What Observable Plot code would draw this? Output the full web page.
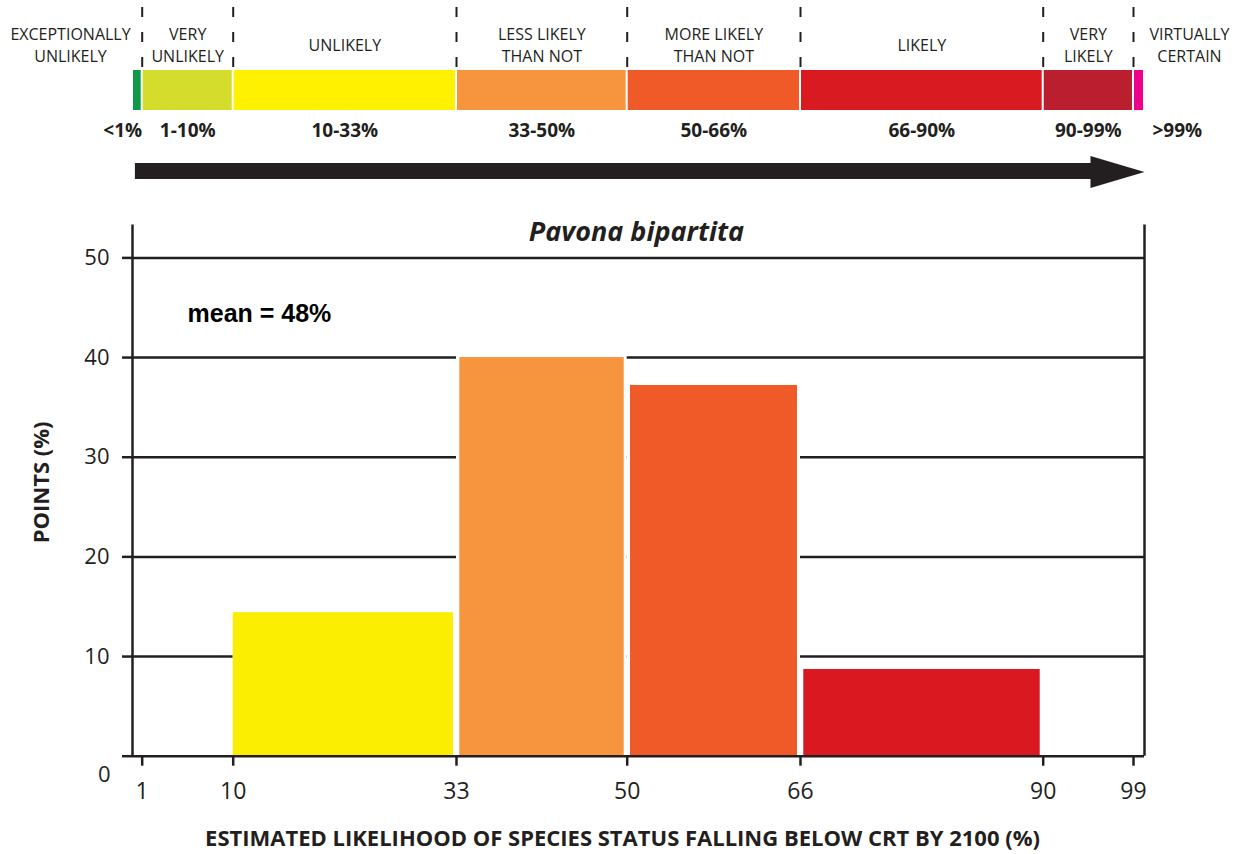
<!DOCTYPE html>
<html>
<head>
<meta charset="utf-8">
<script src="https://cdn.jsdelivr.net/npm/d3@7"></script>
<script src="https://cdn.jsdelivr.net/npm/@observablehq/plot@0.6"></script>
<style>
  body { margin: 0; background: #fff; }
  svg { display: block; }
</style>
</head>
<body>
<div id="chart"></div>
<script>
// ---------- data ----------
const catLabels = ["EXCEPTIONALLY\nUNLIKELY", "VERY\nUNLIKELY", "UNLIKELY", "LESS LIKELY\nTHAN NOT", "MORE LIKELY\nTHAN NOT", "LIKELY", "VERY\nLIKELY", "VIRTUALLY\nCERTAIN"];
const catRanges = ["<1%", "1-10%", "10-33%", "33-50%", "50-66%", "66-90%", "90-99%", ">99%"];
const catLo = [0, 1, 10, 33, 50, 66, 90, 99];
const catHi = [1, 10, 33, 50, 66, 90, 99, 100];
const catPalette = ["#0f9a4a", "#d5dd2c", "#fff100", "#f7953e", "#ef5a28", "#da1a21", "#bb1e2f", "#ec008c"];

const binLo = [10, 33, 50, 66];
const binHi = [33, 50, 66, 90];
const points = [14.4, 40, 37.2, 8.7];
const binPalette = ["#fcee00", "#f7953e", "#f05a28", "#d9181f"];

const xTicks = [1, 10, 33, 50, 66, 90, 99];
const yTicks = [0, 10, 20, 30, 40, 50];
const arrowFrom = 0.3, arrowTo = 100;
const speciesTitle = "Pavona bipartita";
const meanLabel = "mean = 48%";
const xTitle = "ESTIMATED LIKELIHOOD OF SPECIES STATUS FALLING BELOW CRT BY 2100 (%)";
const yTitle = "POINTS (%)";

// ---------- shared layout ----------
const W = 1237;
const ink = "#231f20";
const xScale = {
  type: "linear",
  domain: [0, 1, 10, 33, 50, 66, 90, 99, 100],
  range: [132, 141.7, 232.7, 456, 626.7, 800, 1042.7, 1133, 1144]
};
const xMin = xScale.domain[0], xMax = xScale.domain[xScale.domain.length - 1];
const cats = catLabels.map((label, i) => ({label, range: catRanges[i], lo: catLo[i], hi: catHi[i], color: catPalette[i]}));
const bins = binLo.map((lo, i) => ({lo, hi: binHi[i], value: points[i], color: binPalette[i]}));
const mid = d => (d.lo + d.hi) / 2;
const rows = ["label", "band", "pct", "arrow"];
const font = "Open Sans";

// ---------- top scale strip ----------
const arrowHead = {
  draw(ctx) {
    ctx.moveTo(0, 0);
    ctx.lineTo(-54, -16);
    ctx.lineTo(-54, 16);
    ctx.closePath();
  }
};

const labelStyle = {fontSize: 16, lineHeight: 1.4, fill: ink, dy: -2};
const pctStyle = {fontSize: 19, fontWeight: "bold", fill: ink, dy: -1};

const stripPlot = Plot.plot({
  width: W, height: 200,
  marginLeft: 132, marginRight: 93, marginTop: 0, marginBottom: 0,
  style: {fontFamily: font, color: ink, background: "#fff"},
  x: {...xScale, axis: null},
  y: {type: "band", domain: rows, range: [24, 196], padding: 0, axis: null},
  color: {type: "identity"},
  marks: [
    Plot.ruleX(catHi.slice(0, -1), {x: d => d, y1: () => "label", y2: () => "label", stroke: ink, strokeWidth: 2, strokeDasharray: "10,15", insetTop: -17, insetBottom: -3}),
    Plot.barX(cats, {x1: "lo", x2: "hi", y: () => "band", fill: "color", insetLeft: 1, insetRight: 1, insetTop: 3}),
    Plot.text(cats.slice(1, -1), {x: mid, y: () => "label", text: "label", ...labelStyle}),
    Plot.text(cats.slice(0, 1), {x: "lo", y: () => "label", text: "label", ...labelStyle, dx: -62}),
    Plot.text(cats.slice(-1), {x: "hi", y: () => "label", text: "label", ...labelStyle, dx: 45}),
    Plot.text(cats.slice(1, -1), {x: mid, y: () => "pct", text: "range", ...pctStyle}),
    Plot.text(cats.slice(0, 1), {x: "hi", y: () => "pct", text: "range", ...pctStyle, textAnchor: "end"}),
    Plot.text(cats.slice(-1), {x: "hi", y: () => "pct", text: "range", ...pctStyle, textAnchor: "start", dx: 8}),
    Plot.barX([{from: arrowFrom, to: arrowTo}], {x1: "from", x2: "to", y: () => "arrow", fill: ink, insetTop: 10, insetBottom: 17, insetRight: 45}),
    Plot.dot([{to: arrowTo}], {x: "to", y: () => "arrow", symbol: arrowHead, fill: ink, stroke: null, dy: -3})
  ]
});

// ---------- histogram ----------
const H = 654;
const y0px = 555.7;
const yTop = 54.3;
const histPlot = Plot.plot({
  width: W, height: H,
  marginLeft: 132, marginRight: 93, marginTop: 0, marginBottom: H - y0px,
  style: {fontFamily: font, color: ink, background: "#fff"},
  x: {...xScale, label: null},
  y: {type: "linear", domain: [0, 50], range: [y0px, 57.4], label: null},
  color: {type: "identity"},
  marks: [
    Plot.ruleY(yTicks.slice(1), {x1: xMin, x2: xMax, stroke: ink, strokeWidth: 2.5}),
    Plot.rectY(bins, {x1: "lo", x2: "hi", y: "value", fill: "#fff", insetTop: -2}),
    Plot.rectY(bins.slice(0, 1), {x1: "lo", x2: "hi", y: "value", fill: "color", insetRight: 3}),
    Plot.rectY(bins.slice(1), {x1: "lo", x2: "hi", y: "value", fill: "color", insetLeft: 3.3, insetRight: 3}),
    Plot.ruleY([0], {x1: xMin, x2: xMax, stroke: ink, strokeWidth: 2.5}),
    Plot.ruleX([xMin, xMax], {y1: 0, y2: yTop, stroke: ink, strokeWidth: 2.5, insetBottom: -10}),
    Plot.axisY({ticks: yTicks, tickSize: 10, tickPadding: 13, fontSize: 22, strokeWidth: 2.5, label: null, tickFormat: d => d === 0 ? "" : String(d)}),
    Plot.axisY({ticks: yTicks.slice(0, 1), tickSize: 0, tickPadding: 22, fontSize: 22, label: null, tickFormat: d => String(d), dy: 19}),
    Plot.axisX({ticks: xTicks, tickSize: 10, tickPadding: 16, fontSize: 23, strokeWidth: 2.5, label: null, tickFormat: d => String(d)}),
    Plot.text([speciesTitle], {frameAnchor: "top", lineAnchor: "middle", text: d => d, fontSize: 27, fontWeight: "bold", fontStyle: "italic", fill: ink, dx: -2, dy: 32}),
    Plot.text([meanLabel], {frameAnchor: "top-left", lineAnchor: "middle", text: d => d, fontFamily: "Liberation Sans", fontSize: 25, fontWeight: "bold", fill: "#000", textAnchor: "start", dx: 55, dy: 113}),
    Plot.text([yTitle], {frameAnchor: "left", lineAnchor: "middle", text: d => d, fontSize: 22, fontWeight: "bold", fill: ink, rotate: -90, dx: -91, dy: 65}),
    Plot.text([xTitle], {frameAnchor: "bottom", lineAnchor: "middle", text: d => d, fontSize: 22, fontWeight: "bold", fill: ink, dx: -16, dy: 83})
  ]
});

document.getElementById("chart").append(stripPlot, histPlot);
</script>
</body>
</html>
